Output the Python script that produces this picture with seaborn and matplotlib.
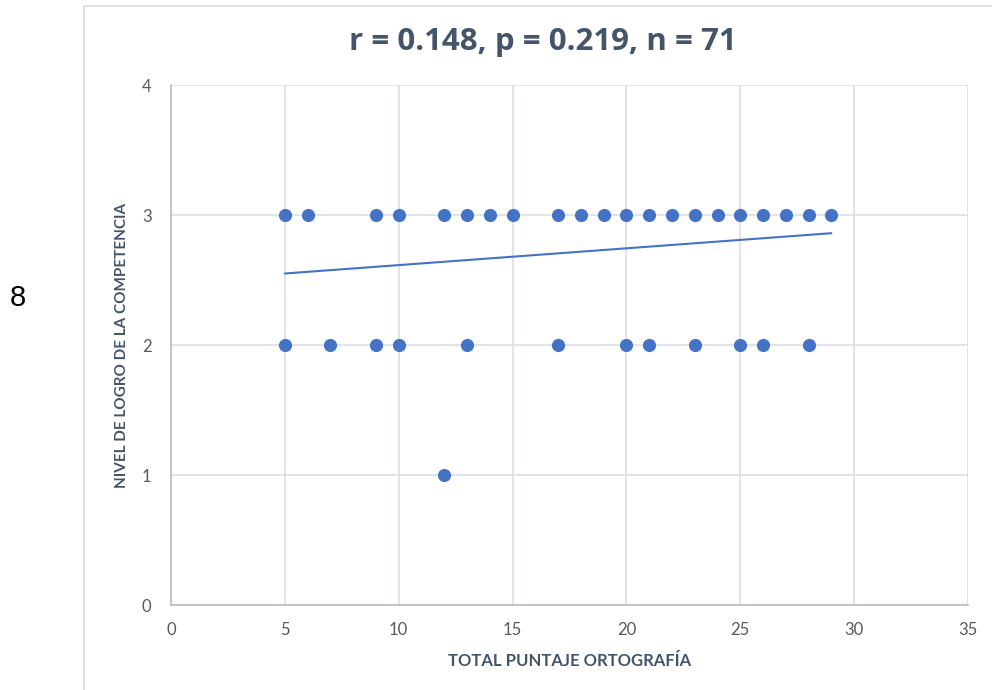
import matplotlib
matplotlib.use("Agg")
import matplotlib.pyplot as plt
import seaborn as sns
import pandas as pd
from matplotlib.patches import Rectangle

# ==============================================
# DATOS
# ==============================================
x_nivel3 = [5, 6, 9, 10, 12, 13, 14, 15, 17, 18, 19, 20, 21, 22, 23, 24, 25, 26, 27, 28, 29]
x_nivel2 = [5, 7, 9, 10, 13, 17, 20, 21, 23, 25, 26, 28]
x_nivel1 = [12]

# línea de tendencia (extremos)
tendencia_x = [5, 29]
tendencia_y = [2.55, 2.86]

titulo = "r = 0.148, p = 0.219, n = 71"
etiqueta_x = "TOTAL PUNTAJE ORTOGRAFÍA"
etiqueta_y = "NIVEL DE LOGRO DE LA COMPETENCIA"

df = pd.DataFrame({
    "x": x_nivel3 + x_nivel2 + x_nivel1,
    "y": [3] * len(x_nivel3) + [2] * len(x_nivel2) + [1] * len(x_nivel1),
})
df_tend = pd.DataFrame({"x": tendencia_x, "y": tendencia_y})

# ==============================================
# ESTILO
# ==============================================
sns.set_theme(style="white")
plt.rcParams['font.family'] = ['Lato', 'DejaVu Sans']

AZUL = "#4472C4"
GRID = "#D9DEE6"
TEXTO = "#44546A"
TICKS = "#595959"

fig = plt.figure(figsize=(9.92, 6.9), dpi=100)
ax = fig.add_axes([171 / 992, 85 / 690, 797 / 992, 520 / 690])

# marco del área del gráfico
fig.patches.append(Rectangle((84 / 992, -0.05), 1.0, (690 - 6) / 690 + 0.05,
                             transform=fig.transFigure, fill=False,
                             edgecolor="#D9D9D9", linewidth=1.2))

sns.scatterplot(data=df, x="x", y="y", ax=ax, color=AZUL, s=90,
                edgecolor=AZUL, linewidth=0, zorder=3)
sns.lineplot(data=df_tend, x="x", y="y", ax=ax, color=AZUL, linewidth=1.5, zorder=2)

ax.set_xlim(0, 35)
ax.set_ylim(0, 4)
ax.set_xticks(range(0, 36, 5))
ax.set_yticks(range(0, 5))
ax.grid(True, color=GRID, linewidth=1.2)
ax.set_axisbelow(True)

for lado in ["top", "right"]:
    ax.spines[lado].set_visible(False)
for lado in ["left", "bottom"]:
    ax.spines[lado].set_color("#B4BCC8")
    ax.spines[lado].set_linewidth(1.2)

ax.tick_params(axis="both", length=0, labelsize=12, colors=TICKS)
ax.tick_params(axis="x", pad=12)
ax.tick_params(axis="y", pad=14)
ax.set_xlabel(etiqueta_x, fontsize=12, fontweight="bold", color=TEXTO, labelpad=11)
ax.set_ylabel(etiqueta_y, fontsize=11, fontweight="bold", color=TEXTO, labelpad=9)

fig.text(543 / 992, 1 - 42 / 690, titulo, ha="center", va="center",
         fontsize=22.5, fontweight="bold", color=TEXTO,
         family=["Open Sans", "DejaVu Sans"])
fig.text(18 / 992, 1 - 298 / 690, "8", ha="center", va="center",
         fontsize=21, color="black", family=["Liberation Sans", "DejaVu Sans"])

fig.savefig("out.png", dpi=100)
plt.close(fig)
